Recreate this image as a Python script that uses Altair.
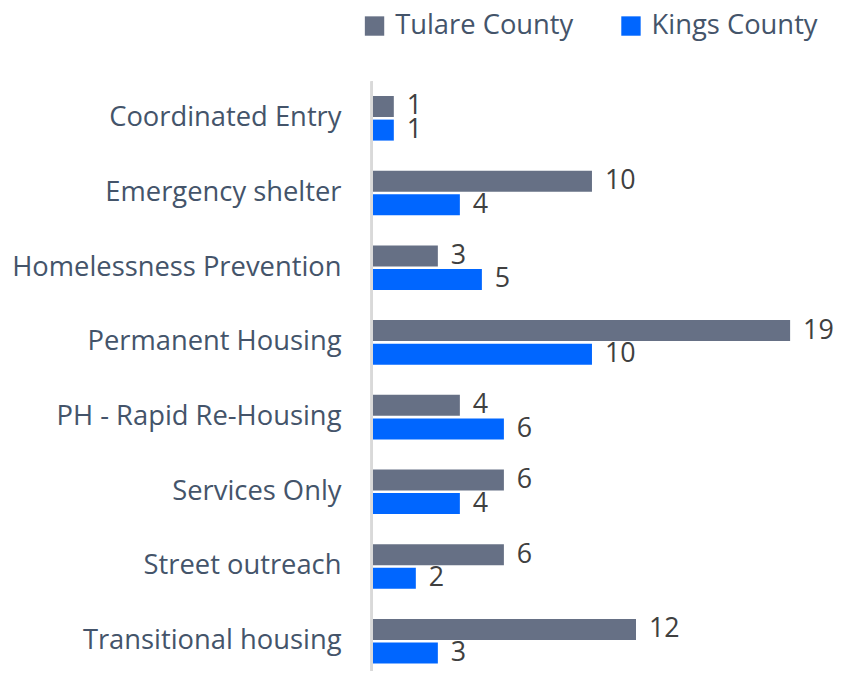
import altair as alt
import pandas as pd

categories = ["Coordinated Entry", "Emergency shelter", "Homelessness Prevention",
              "Permanent Housing", "PH - Rapid Re-Housing", "Services Only",
              "Street outreach", "Transitional housing"]
tulare = [1, 10, 3, 19, 4, 6, 6, 12]
kings = [1, 4, 5, 10, 6, 4, 2, 3]
series = ["Tulare County", "Kings County"]
colors = ["#667085", "#0066FF"]

rows = []
for c, t, k in zip(categories, tulare, kings):
    rows.append({"category": c, "series": series[0], "value": t})
    rows.append({"category": c, "series": series[1], "value": k})
df = pd.DataFrame(rows)

W = 443
H = 586
FONT = "Open Sans"

y_enc = alt.Y("category:N", sort=categories, title=None,
              scale=alt.Scale(paddingInner=0.403, paddingOuter=0.1),
              axis=alt.Axis(domain=False, ticks=False, labelPadding=31,
                            labelFontSize=27.5, labelColor="#44546A", labelFont=FONT,
                            labelLimit=400, grid=False))
yoff = alt.YOffset("series:N", sort=series, scale=alt.Scale(paddingInner=0.11))
x_enc = alt.X("value:Q", scale=alt.Scale(domain=[0, 20]), axis=None, title=None)

bars = alt.Chart(df).mark_bar().encode(
    x=x_enc, y=y_enc, yOffset=yoff,
    color=alt.Color("series:N", sort=series,
                    scale=alt.Scale(domain=series, range=colors),
                    legend=alt.Legend(title=None, orient="none", direction="horizontal",
                                      legendX=-11, legendY=-77,
                                      symbolType="square", symbolSize=380,
                                      symbolStrokeWidth=0, labelFontSize=27.5,
                                      labelFont=FONT, labelColor="#44546A",
                                      labelOffset=7, columnPadding=44, labelLimit=400))
)

labels = alt.Chart(df).mark_text(align="left", baseline="middle", dx=13,
                                 fontSize=27, font=FONT, color="#404040").encode(
    x=x_enc, y=alt.Y("category:N", sort=categories), yOffset=yoff,
    text=alt.Text("value:Q")
)

axis_line = alt.Chart(df).mark_rule(color="#D9D9D9", strokeWidth=2).encode(
    x=alt.value(0), y=alt.value(-7), y2=alt.value(H)
)

chart = alt.layer(bars, labels, axis_line).properties(
    width=W, height=H, padding={"left": 3, "top": 2, "right": 0, "bottom": 0}
).configure_view(stroke=None)

chart.save("out.html", embed_options={"renderer": "svg", "actions": False})
